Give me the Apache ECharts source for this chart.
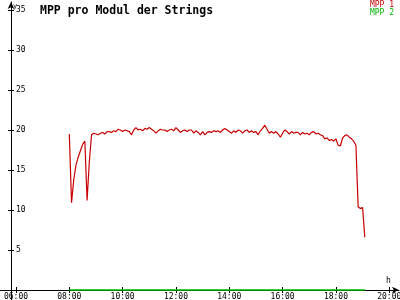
<!DOCTYPE html>
<html>
<head>
<meta charset="utf-8">
<script src="https://cdn.jsdelivr.net/npm/echarts@6/dist/echarts.min.js"></script>
<style>html,body{margin:0;padding:0;background:#fff}#c{width:400px;height:300px}</style>
</head>
<body>
<div id="c"></div>
<script>
// ---- data ----
var titleText = 'MPP pro Modul der Strings';
var seriesNames = ['MPP 1', 'MPP 2'];
var startTime = '08:00';      // first sample of MPP 1
var stepMinutes = 5;          // sample spacing
var mpp1Values = [
  19.5, 10.9, 13.8, 15.6, 16.6, 17.4, 18.2, 18.6, 11.2, 16.0,
  19.4, 19.6, 19.5, 19.4, 19.6, 19.7, 19.5, 19.8, 19.8, 19.7,
  19.9, 19.8, 20.1, 20.0, 19.8, 20.0, 19.9, 19.8, 19.4, 20.0,
  20.3, 20.0, 20.1, 19.9, 20.2, 20.1, 20.3, 20.1, 19.9, 19.6,
  19.9, 20.1, 20.0, 20.0, 19.8, 20.0, 20.1, 19.9, 20.3, 20.0,
  19.7, 19.9, 20.0, 19.8, 20.0, 20.0, 19.6, 19.9, 19.7, 19.4,
  19.8, 19.4, 19.7, 19.8, 19.7, 19.9, 19.8, 19.9, 19.7, 20.0,
  20.2, 20.0, 19.8, 19.6, 19.9, 19.7, 20.0, 19.9, 19.6, 19.9,
  20.0, 19.7, 19.9, 19.7, 19.8, 19.4, 19.9, 20.2, 20.6, 20.1,
  19.6, 19.8, 19.6, 19.8, 19.5, 19.1, 19.6, 20.0, 19.8, 19.5,
  19.8, 19.6, 19.7, 19.7, 19.4, 19.7, 19.5, 19.6, 19.4, 19.7,
  19.8, 19.5, 19.6, 19.4, 19.3, 18.9, 19.0, 18.7, 18.8, 18.6,
  18.9, 18.1, 18.0, 19.0, 19.3, 19.4, 19.1, 18.9, 18.6, 18.1,
  10.4, 10.2, 10.3, 6.6
];
var mpp2Times = ['08:00', '19:05'];
var mpp2Values = [0, 0];
var xTickHours = [6, 8, 10, 12, 14, 16, 18, 20];
var yTickValues = [5, 10, 15, 20, 25, 30, 35];
var xName = 'h';
var yName = 'y';

// ---- helpers ----
function toHours(s) { var p = s.split(':'); return +p[0] + (+p[1]) / 60; }
function fmtHour(h) { return (h < 10 ? '0' : '') + h + ':00'; }
var t0 = toHours(startTime);
var mpp1Data = mpp1Values.map(function (v, i) { return [t0 + i * stepMinutes / 60, v]; });
var mpp2Data = mpp2Values.map(function (v, i) { return [toHours(mpp2Times[i]), v]; });

var FONT = 'DejaVu Sans Mono';
var RED = '#c80000';
var GREEN = '#00b400';
var XMIN = 5.4, XMAX = 20.366, YMIN = -1.25, YMAX = 36;

var chart = echarts.init(document.getElementById('c'), null, { renderer: 'canvas' });
chart.setOption({
  animation: false,
  backgroundColor: '#fff',
  title: {
    text: titleText, left: 35, top: 0,
    textStyle: { fontFamily: FONT, fontSize: 11.5, fontWeight: 'bold', color: '#000' }
  },
  legend: {
    orient: 'vertical', right: 6, top: 1, itemGap: 0, itemWidth: 0, itemHeight: 8,
    icon: 'none', padding: 0,
    textStyle: { fontFamily: FONT, fontSize: 8, lineHeight: 8, padding: [0, 0, 0, -5] },
    data: [
      { name: seriesNames[0], textStyle: { color: RED } },
      { name: seriesNames[1], textStyle: { color: GREEN } }
    ]
  },
  grid: { left: 0, right: 1, top: 2, bottom: 0, containLabel: false, outerBoundsMode: 'none' },
  xAxis: [{
    type: 'value', min: XMIN, max: XMAX, position: 'bottom',
    name: xName, nameLocation: 'end', nameGap: -13, nameMoveOverlap: false,
    nameTextStyle: { fontFamily: FONT, fontSize: 8, color: '#000', align: 'left', verticalAlign: 'bottom', padding: [0, 0, 5, 0] },
    axisLine: { onZero: true, onZeroAxisIndex: 0, symbol: ['none', 'arrow'], symbolSize: [5, 7], lineStyle: { color: '#000', width: 1 } },
    axisTick: { show: true, length: 3, customValues: xTickHours, lineStyle: { color: '#000' } },
    axisLabel: { customValues: xTickHours, formatter: fmtHour, margin: -7, fontFamily: FONT, fontSize: 8, color: '#000' },
    splitLine: { show: false }
  }, {
    type: 'value', min: XMIN, max: XMAX, position: 'bottom',
    axisLine: { show: false, onZero: true, onZeroAxisIndex: 1 },
    axisTick: { show: true, inside: true, length: 3, customValues: xTickHours, lineStyle: { color: '#000' } },
    axisLabel: { show: false },
    splitLine: { show: false }
  }],
  yAxis: [{
    type: 'value', min: YMIN, max: YMAX, position: 'left', offset: -11,
    name: yName, nameLocation: 'end', nameGap: -1, nameMoveOverlap: false,
    nameTextStyle: { fontFamily: FONT, fontSize: 7, lineHeight: 7, color: '#000', align: 'left', verticalAlign: 'top', padding: [0, 0, 0, 2] },
    axisLine: { show: true, onZero: false, symbol: ['none', 'arrow'], symbolSize: [5, 7], lineStyle: { color: '#000', width: 1 } },
    axisTick: { show: true, length: 3, customValues: yTickValues, lineStyle: { color: '#000' } },
    axisLabel: { inside: true, customValues: yTickValues, margin: 5, fontFamily: FONT, fontSize: 8, color: '#000' },
    splitLine: { show: false }
  }, {
    type: 'value', min: YMIN, max: YMAX, position: 'left', offset: -11,
    axisLine: { show: false, onZero: false },
    axisTick: { show: true, inside: true, length: 3, customValues: yTickValues, lineStyle: { color: '#000' } },
    axisLabel: { show: false },
    splitLine: { show: false }
  }],
  series: [{
    name: seriesNames[0], type: 'line', xAxisIndex: 0, yAxisIndex: 0,
    data: mpp1Data, showSymbol: false, color: RED,
    lineStyle: { color: RED, width: 1.2 }, z: 3
  }, {
    name: seriesNames[1], type: 'line', xAxisIndex: 0, yAxisIndex: 0,
    data: mpp2Data, showSymbol: false, color: GREEN,
    lineStyle: { color: GREEN, width: 1.6 }, z: 4
  }]
});
</script>
</body>
</html>
